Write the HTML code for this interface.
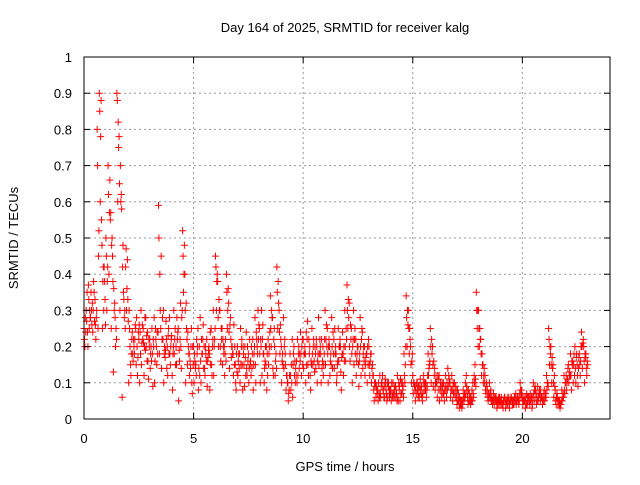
<!DOCTYPE html>
<html><head><meta charset="utf-8"><style>
html,body{margin:0;padding:0;background:#fff}
svg text{font-family:"Liberation Sans",sans-serif;font-size:13px;fill:#000}
</style></head><body>
<svg id="chart" width="640" height="480" xmlns="http://www.w3.org/2000/svg">
<text x="345" y="32" text-anchor="middle">Day 164 of 2025, SRMTID for receiver kalg</text>
<text x="345" y="471" text-anchor="middle">GPS time / hours</text>
<text transform="translate(18,238) rotate(-90)" text-anchor="middle">SRMTID / TECUs</text>
<g id="grid"></g>
<g id="marks"></g>
<rect x="84" y="57" width="526" height="362" fill="none" stroke="#000" stroke-width="1"/>
<g id="axes"></g>
</svg>
<script>
const xTicks=[0,5,10,15,20];
const yTicks=[0,0.1,0.2,0.3,0.4,0.5,0.6,0.7,0.8,0.9,1];
const yTickLabels=["0","0.1","0.2","0.3","0.4","0.5","0.6","0.7","0.8","0.9","1"];
const times=[
0.0,0.1,0.2,0.3,0.4,0.5,0.6,0.7,0.8,0.9,1.0,1.1,1.2,1.3,1.4,1.5,1.6,1.7,1.8,1.9,
2.0,2.1,2.2,2.3,2.4,2.5,2.6,2.7,2.8,2.9,3.0,3.1,3.2,3.3,3.4,3.5,3.6,3.7,3.8,3.9,
4.0,4.1,4.2,4.3,4.4,4.5,4.6,4.7,4.8,4.9,5.0,5.1,5.2,5.3,5.4,5.5,5.6,5.7,5.8,5.9,
6.0,6.1,6.2,6.3,6.4,6.5,6.6,6.7,6.8,6.9,7.0,7.1,7.2,7.3,7.4,7.5,7.6,7.7,7.8,7.9,
8.0,8.1,8.2,8.3,8.4,8.5,8.6,8.7,8.8,8.9,9.0,9.1,9.2,9.3,9.4,9.5,9.6,9.7,9.8,9.9,
10.0,10.1,10.2,10.3,10.4,10.5,10.6,10.7,10.8,10.9,11.0,11.1,11.2,11.3,11.4,11.5,11.6,11.7,11.8,11.9,
12.0,12.1,12.2,12.3,12.4,12.5,12.6,12.7,12.8,12.9,13.0,13.1,13.2,13.3,13.4,13.5,13.6,13.7,13.8,13.9,
14.0,14.1,14.2,14.3,14.4,14.5,14.6,14.7,14.8,14.9,15.0,15.1,15.2,15.3,15.4,15.5,15.6,15.7,15.8,15.9,
16.0,16.1,16.2,16.3,16.4,16.5,16.6,16.7,16.8,16.9,17.0,17.1,17.2,17.3,17.4,17.5,17.6,17.7,17.8,17.9,
18.0,18.1,18.2,18.3,18.4,18.5,18.6,18.7,18.8,18.9,19.0,19.1,19.2,19.3,19.4,19.5,19.6,19.7,19.8,19.9,
20.0,20.1,20.2,20.3,20.4,20.5,20.6,20.7,20.8,20.9,21.0,21.1,21.2,21.3,21.4,21.5,21.6,21.7,21.8,21.9,
22.0,22.1,22.2,22.3,22.4,22.5,22.6,22.7,22.8,22.9];
const seriesA=[
.25,.30,.37,.28,.24,.33,.80,.90,.55,.30,.50,.70,.55,.45,.32,.90,.78,.62,.35,.42,
.33,.20,.24,.18,.28,.22,.30,.25,.19,.24,.22,.25,.28,.20,.59,.25,.22,.17,.20,.28,
.23,.30,.20,.25,.32,.52,.40,.22,.18,.25,.20,.15,.25,.28,.18,.14,.22,.20,.25,.30,
.45,.38,.30,.25,.20,.40,.32,.22,.18,.15,.20,.18,.22,.15,.24,.18,.16,.22,.28,.20,
.25,.30,.18,.15,.22,.34,.28,.20,.42,.30,.20,.28,.15,.10,.18,.22,.12,.16,.20,.18,
.22,.18,.27,.20,.25,.16,.22,.28,.18,.20,.30,.25,.20,.28,.22,.18,.25,.20,.24,.30,
.37,.32,.25,.30,.22,.20,.28,.24,.20,.18,.20,.18,.12,.10,.08,.12,.10,.09,.07,.10,
.08,.10,.06,.12,.09,.07,.18,.34,.30,.20,.12,.08,.10,.06,.09,.12,.10,.18,.25,.20,
.14,.10,.12,.08,.10,.12,.14,.10,.08,.10,.06,.05,.04,.08,.10,.06,.05,.08,.12,.35,
.30,.22,.15,.12,.08,.10,.06,.05,.06,.05,.05,.04,.06,.05,.04,.06,.05,.07,.06,.10,
.06,.05,.07,.06,.05,.10,.08,.09,.07,.06,.08,.12,.25,.20,.15,.08,.06,.05,.08,.12,
.12,.15,.18,.16,.20,.15,.18,.24,.20,.18];
const seriesB=[
.22,.27,.33,.35,.30,.26,.70,.85,.48,.42,.45,.62,.57,.38,.28,.88,.65,.58,.33,.47,
.27,.15,.18,.22,.20,.26,.15,.21,.28,.16,.14,.18,.10,.15,.50,.45,.30,.19,.12,.18,
.12,.18,.15,.05,.20,.45,.30,.15,.12,.10,.10,.12,.08,.16,.22,.12,.09,.18,.15,.12,
.42,.28,.20,.15,.12,.35,.24,.17,.12,.10,.12,.10,.15,.09,.14,.10,.12,.08,.15,.18,
.18,.12,.10,.20,.15,.25,.14,.12,.35,.24,.10,.14,.08,.05,.12,.06,.16,.10,.14,.12,
.14,.10,.15,.12,.18,.13,.20,.15,.10,.12,.15,.18,.12,.20,.14,.10,.16,.13,.18,.20,
.30,.20,.18,.15,.12,.15,.20,.14,.12,.10,.15,.10,.08,.06,.05,.07,.12,.06,.05,.08,
.05,.07,.09,.06,.05,.10,.12,.28,.25,.15,.07,.05,.08,.09,.06,.08,.06,.12,.20,.15,
.08,.06,.05,.06,.07,.08,.09,.06,.05,.07,.04,.03,.05,.06,.07,.04,.06,.05,.10,.30,
.25,.18,.10,.08,.06,.07,.05,.04,.05,.06,.04,.03,.05,.04,.03,.05,.04,.04,.05,.08,
.04,.05,.04,.05,.06,.07,.06,.05,.05,.04,.05,.08,.22,.15,.10,.05,.04,.03,.05,.08,
.08,.10,.12,.10,.14,.12,.15,.20,.16,.14];
const seriesC=[
.20,.35,.25,.30,.38,.22,.25,.60,.25,.38,.30,.40,.25,.13,.20,.60,.30,.06,.28,.30,
.10,.12,.16,.26,.12,.10,.21,.12,.20,.11,.18,.09,.16,.24,.18,.14,.10,.27,.23,.15,
.08,.22,.28,.19,.14,.35,.10,.24,.16,.07,.18,.22,.14,.10,.26,.20,.16,.08,.12,.20,
.30,.20,.16,.22,.18,.25,.14,.20,.26,.08,.16,.25,.08,.20,.12,.14,.20,.15,.10,.30,
.10,.22,.14,.08,.18,.20,.12,.16,.25,.18,.16,.20,.12,.07,.08,.15,.10,.22,.18,.20,
.18,.24,.12,.08,.15,.20,.10,.18,.22,.15,.22,.10,.16,.14,.25,.12,.20,.08,.12,.16,
.25,.16,.10,.22,.16,.09,.12,.18,.15,.20,.12,.14,.05,.09,.10,.06,.08,.11,.10,.06,
.10,.06,.08,.05,.11,.08,.10,.20,.18,.10,.10,.09,.06,.11,.05,.10,.08,.14,.10,.09,
.10,.12,.08,.10,.05,.06,.12,.08,.10,.06,.08,.06,.03,.05,.12,.08,.04,.10,.15,.25,
.20,.12,.12,.07,.05,.06,.04,.06,.03,.04,.06,.05,.03,.06,.05,.04,.06,.05,.04,.06,
.05,.03,.06,.04,.03,.05,.04,.06,.08,.05,.06,.10,.15,.10,.06,.04,.05,.04,.06,.07,
.10,.12,.08,.15,.10,.09,.12,.14,.10,.12];
const seriesD=[
.28,.24,.30,.26,.35,.28,.45,.78,.38,.33,.38,.57,.48,.36,.25,.82,.70,.42,.30,.36,
.30,.18,.22,.25,.17,.24,.26,.20,.23,.22,.20,.22,.25,.18,.40,.22,.18,.22,.25,.20,
.18,.25,.22,.16,.28,.40,.32,.20,.14,.20,.16,.18,.20,.22,.14,.18,.17,.24,.20,.22,
.38,.33,.25,.20,.22,.30,.26,.20,.15,.18,.18,.15,.20,.17,.20,.22,.14,.18,.24,.22,
.22,.26,.16,.18,.20,.30,.22,.18,.38,.26,.18,.22,.12,.08,.15,.18,.14,.12,.16,.22,
.18,.15,.22,.16,.20,.18,.16,.22,.14,.18,.26,.20,.18,.24,.18,.15,.20,.17,.20,.25,
.33,.26,.20,.25,.18,.16,.22,.20,.17,.15,.16,.15,.10,.08,.07,.09,.08,.10,.06,.08,
.07,.08,.07,.10,.07,.09,.15,.30,.25,.16,.10,.07,.09,.08,.07,.10,.09,.15,.22,.16,
.12,.08,.10,.09,.08,.10,.11,.08,.07,.09,.05,.04,.05,.07,.09,.05,.06,.07,.11,.30,
.25,.18,.14,.10,.07,.08,.05,.06,.05,.06,.05,.05,.04,.06,.05,.05,.06,.05,.05,.08,
.05,.06,.05,.07,.04,.08,.07,.07,.06,.05,.07,.10,.20,.17,.12,.06,.05,.04,.07,.10,
.11,.13,.16,.18,.17,.14,.16,.21,.18,.16];
const seriesE=[
.24,.20,.28,.32,.27,.30,.52,.88,.42,.26,.42,.66,.50,.30,.22,.75,.60,.48,.25,.44,
.25,.22,.20,.15,.24,.18,.22,.28,.16,.20,.16,.20,.22,.24,.30,.28,.20,.14,.18,.22,
.20,.15,.24,.22,.30,.48,.25,.18,.20,.15,.14,.20,.12,.18,.20,.16,.19,.15,.22,.25,
.40,.30,.22,.18,.16,.36,.28,.18,.20,.13,.14,.20,.18,.12,.16,.15,.18,.20,.22,.26,
.20,.18,.20,.12,.24,.28,.25,.14,.32,.22,.15,.18,.10,.12,.10,.20,.12,.18,.24,.15,
.20,.22,.18,.15,.22,.14,.18,.20,.16,.22,.20,.22,.15,.18,.20,.16,.22,.18,.16,.22,
.28,.22,.22,.18,.20,.18,.25,.16,.18,.22,.18,.12,.09,.07,.06,.10,.06,.08,.09,.07,
.06,.09,.05,.08,.10,.06,.20,.26,.22,.18,.09,.10,.07,.07,.10,.08,.12,.16,.18,.12,
.10,.11,.09,.07,.09,.08,.10,.12,.09,.08,.07,.05,.04,.06,.08,.07,.05,.06,.09,.20,
.22,.15,.10,.09,.06,.05,.07,.05,.04,.05,.04,.06,.05,.05,.06,.04,.05,.06,.07,.07,
.06,.04,.06,.05,.06,.09,.05,.08,.06,.07,.06,.09,.18,.14,.09,.07,.04,.05,.06,.10,
.14,.12,.15,.12,.18,.17,.20,.22,.17,.15];
const X0=84,X1=610,Y0=419,Y1=57,XMAX=24;
function xs(t){return X0+(t/XMAX)*(X1-X0);}
function ys(v){return Y0-(v)*(Y0-Y1);}
const NS="http://www.w3.org/2000/svg";
const grid=document.getElementById('grid'),axes=document.getElementById('axes'),marks=document.getElementById('marks');
function ln(p,x1,y1,x2,y2,st,dash){const l=document.createElementNS(NS,'line');l.setAttribute('x1',x1);l.setAttribute('y1',y1);l.setAttribute('x2',x2);l.setAttribute('y2',y2);l.setAttribute('stroke',st);if(dash)l.setAttribute('stroke-dasharray',dash);p.appendChild(l);return l;}
xTicks.forEach(t=>{const x=xs(t);
 if(t>0){const g=ln(grid,x,Y1,x,Y0,'#999','2,3');
 
 }
 ln(axes,x,Y0,x,Y0-6,'#000');ln(axes,x,Y1,x,Y1+6,'#000');
 const tx=document.createElementNS(NS,'text');tx.setAttribute('x',x);tx.setAttribute('y',443);tx.setAttribute('text-anchor','middle');tx.textContent=t;
 
 
 axes.appendChild(tx);});
yTicks.forEach((v,i)=>{const y=ys(v);
 if(v>0&&v<1){const g=ln(grid,X0,y,X1,y,'#999','2,3');
 
 }
 ln(axes,X0,y,X0+6,y,'#000');ln(axes,X1,y,X1-6,y,'#000');
 const tx=document.createElementNS(NS,'text');tx.setAttribute('x',72);tx.setAttribute('y',y+5);tx.setAttribute('text-anchor','end');tx.textContent=yTickLabels[i];
 
 
 axes.appendChild(tx);});
function plus(x,y,c){const g=document.createElementNS(NS,'path');g.setAttribute('d',`M${x-3.5} ${y}H${x+3.5}M${x} ${y-3.5}V${y+3.5}`);g.setAttribute('stroke',c);g.setAttribute('stroke-width','1');g.setAttribute('fill','none');return g;}
const allSeries=[seriesA,seriesB,seriesC,seriesD,seriesE];
const offsets=[0,0.02,0.04,0.06,0.08];
allSeries.forEach((s,si)=>{s.forEach((v,i)=>{
 const p=plus(xs(times[i]+offsets[si]),ys(v),'#f00');
 
 
 marks.appendChild(p);});});
</script>
</body></html>
